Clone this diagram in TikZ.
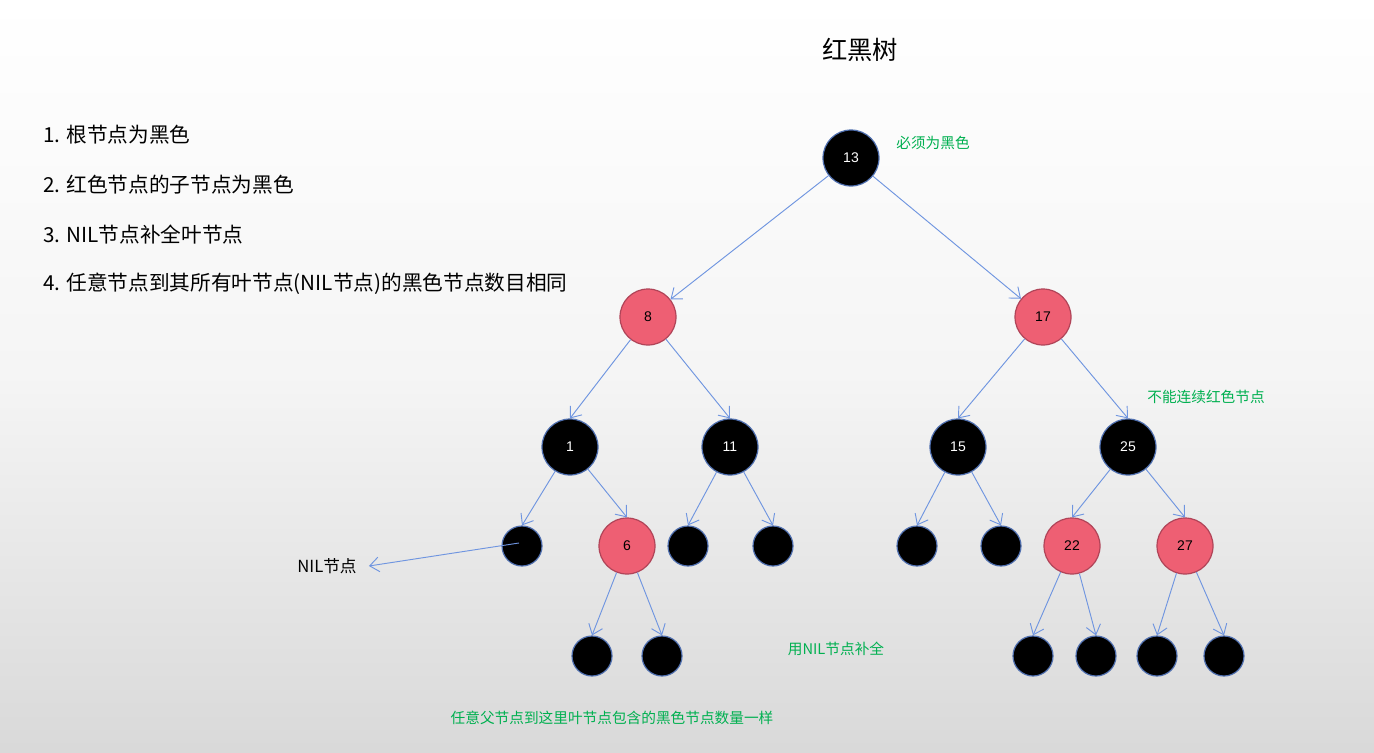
\documentclass[tikz,border=0pt]{standalone}
\usepackage{fontspec}
\setmainfont{Noto Sans CJK SC}
\newfontfamily\numfont{Liberation Sans}
\usetikzlibrary{arrows.meta}
\definecolor{bnode}{HTML}{000000}
\definecolor{bborder}{HTML}{4F6FAF}
\definecolor{rfill}{HTML}{EE5F73}
\definecolor{rborder}{HTML}{B04458}
\definecolor{edgeblue}{HTML}{6F95E0}
\definecolor{notegreen}{HTML}{00B050}
\tikzset{
  blk/.style={circle,draw=bborder,fill=bnode,line width=0.9pt,minimum size=42pt,inner sep=0pt,text=white,font=\numfont\fontsize{10.5}{12}\selectfont},
  red/.style={circle,draw=rborder,fill=rfill,line width=0.9pt,minimum size=42pt,inner sep=0pt,text=black,font=\numfont\fontsize{10.5}{12}\selectfont},
  nil/.style={circle,draw=bborder,fill=bnode,line width=0.9pt,minimum size=30pt,inner sep=0pt},
  edge/.style={draw=edgeblue,line width=0.7pt,-{Straight Barb[length=7pt,width=11pt]}},
  note/.style={text=notegreen,font=\fontsize{11}{13}\selectfont,inner sep=0pt},
  rule/.style={anchor=west,font=\fontsize{15.5}{18}\selectfont,inner sep=0pt}
}
\begin{document}
\begin{tikzpicture}[x=0.75pt,y=-0.75pt]
\shade[top color=white,bottom color=black!15,middle color=white!96!black] (0,0) rectangle (1374,753);
\useasboundingbox (0,0) rectangle (1374,753);
\node[font=\fontsize{19}{22}\selectfont] (title) at (860,50) {红黑树};
\node[rule] (r1) at (43,135) {1. 根节点为黑色};
\node[rule] (r2) at (43,185) {2. 红色节点的子节点为黑色};
\node[rule] (r3) at (43,235) {3. NIL节点补全叶节点};
\node[rule] (r4) at (43,284) {4. 任意节点到其所有叶节点(NIL节点)的黑色节点数目相同};
% tree
\node[blk] (n13) at (851,158) {13};
\node[red] (n8) at (648,317) {8};
\node[red] (n17) at (1043,317) {17};
\node[blk] (n1) at (570,447) {1};
\node[blk] (n11) at (730,447) {11};
\node[blk] (n15) at (958,447) {15};
\node[blk] (n25) at (1128,447) {25};
\node[nil] (l1a) at (522,546) {};
\node[red] (n6) at (627,546) {6};
\node[nil] (l11a) at (688,546) {};
\node[nil] (l11b) at (773,546) {};
\node[nil] (l15a) at (917,546) {};
\node[nil] (l15b) at (1001,546) {};
\node[red] (n22) at (1072,546) {22};
\node[red] (n27) at (1185,546) {27};
\node[nil] (l6a) at (592,656) {};
\node[nil] (l6b) at (662,656) {};
\node[nil] (l22a) at (1033,656) {};
\node[nil] (l22b) at (1096,656) {};
\node[nil] (l27a) at (1157,656) {};
\node[nil] (l27b) at (1224,656) {};
\draw[edge] (n13) -- (n8);
\draw[edge] (n13) -- (n17);
\foreach \a/\b in {n8/n1,n8/n11,n17/n15,n17/n25,n1/l1a,n1/n6,n11/l11a,n11/l11b,n15/l15a,n15/l15b,n25/n22,n25/n27,n6/l6a,n6/l6b,n22/l22a,n22/l22b,n27/l27a,n27/l27b}
  \draw[edge] (\a) -- (\b.north);
% notes
\node[note] (t1) at (933,143) {必须为黑色};
\node[note] (t2) at (1206,397) {不能连续红色节点};
\node[note] (t3) at (836,649) {用NIL节点补全};
\node[note] (t4) at (612,718) {任意父节点到这里叶节点包含的黑色节点数量一样};
\node[font=\fontsize{12.5}{14}\selectfont,inner sep=0pt] (nillabel) at (327,566) {NIL节点};
\coordinate (nilin) at (519,543);
\draw[edge] (nilin) -- ([xshift=9pt]nillabel.east);
\end{tikzpicture}
\end{document}
